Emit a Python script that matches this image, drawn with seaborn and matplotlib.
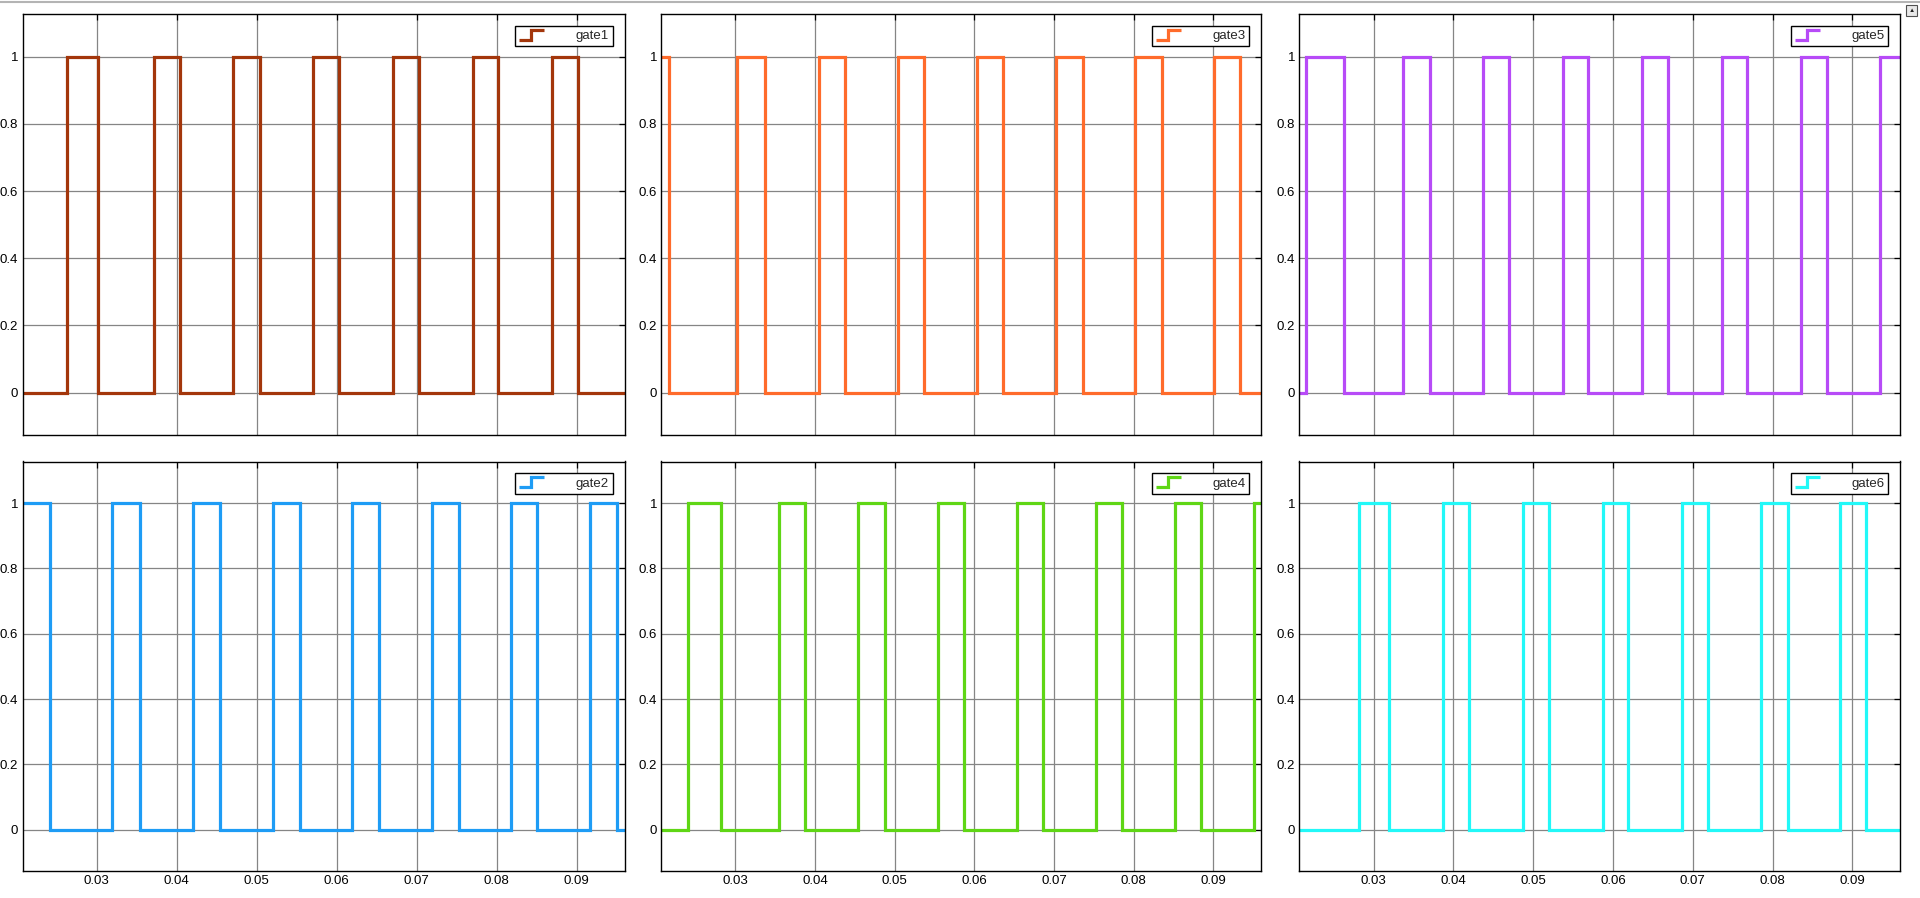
import numpy as np
import pandas as pd
import matplotlib
matplotlib.use('Agg')
import matplotlib.pyplot as plt
import seaborn as sns
from matplotlib.lines import Line2D
from matplotlib.legend_handler import HandlerBase
from matplotlib.patches import Rectangle

gate1_start = 0
gate1_edges = [0.02622, 0.03020, 0.03714, 0.04036, 0.04709, 0.05036, 0.05699, 0.06031,
               0.06699, 0.07026, 0.07699, 0.08020, 0.08689, 0.09020]
gate2_start = 1
gate2_edges = [0.02408, 0.03194, 0.03541, 0.04204, 0.04541, 0.05199, 0.05536, 0.06194,
               0.06531, 0.07189, 0.07526, 0.08184, 0.08510, 0.09173, 0.09500]
gate3_start = 1
gate3_edges = [0.02163, 0.03016, 0.03368, 0.04047, 0.04379, 0.05037, 0.05363, 0.06037,
               0.06363, 0.07026, 0.07358, 0.08021, 0.08353, 0.09011, 0.09337]
gate4_start = 0
gate4_edges = [0.02405, 0.02821, 0.03542, 0.03874, 0.04542, 0.04874, 0.05537, 0.05868,
               0.06532, 0.06858, 0.07526, 0.07853, 0.08516, 0.08842, 0.09511]
gate5_start = 0
gate5_edges = [0.02151, 0.02627, 0.03368, 0.03706, 0.04376, 0.04703, 0.05368, 0.05691,
               0.06366, 0.06688, 0.07363, 0.07685, 0.08355, 0.08683, 0.09348]
gate6_start = 0
gate6_edges = [0.02821, 0.03189, 0.03875, 0.04202, 0.04872, 0.05199, 0.05870, 0.06192,
               0.06867, 0.07189, 0.07859, 0.08187, 0.08847, 0.09174]

t_min, t_max = 0.0207, 0.0960
x_ticks = [0.03, 0.04, 0.05, 0.06, 0.07, 0.08, 0.09]
x_ticklabels = ['0.03', '0.04', '0.05', '0.06', '0.07', '0.08', '0.09']
y_ticks = [0, 0.2, 0.4, 0.6, 0.8, 1]
y_ticklabels = ['0', '0.2', '0.4', '0.6', '0.8', '1']

names = ['gate1', 'gate2', 'gate3', 'gate4', 'gate5', 'gate6']
starts = [gate1_start, gate2_start, gate3_start, gate4_start, gate5_start, gate6_start]
edges = [gate1_edges, gate2_edges, gate3_edges, gate4_edges, gate5_edges, gate6_edges]
colors = ['#A3360B', '#1E9CF5', '#FF6B2B', '#5FD615', '#B74BF7', '#22F8F8']


def step_frame(start, edge_list):
    t = [t_min] + list(edge_list) + [t_max]
    v = [(start + i) % 2 for i in range(len(edge_list) + 1)]
    v.append(v[-1])
    return pd.DataFrame({'t': t, 'v': v})


class StepHandler(HandlerBase):
    # legend icon drawn as a rising step, like the scope legend
    def create_artists(self, legend, orig_handle, xdescent, ydescent,
                       width, height, fontsize, trans):
        x0, y0 = -xdescent, -ydescent
        xs = [x0, x0 + width * 0.5, x0 + width * 0.5, x0 + width]
        ys = [y0 - 0.05 * height, y0 - 0.05 * height, y0 + 1.0 * height, y0 + 1.0 * height]
        ln = Line2D(xs, ys, color=orig_handle.get_color(), lw=orig_handle.get_linewidth(),
                    solid_joinstyle='miter', solid_capstyle='butt')
        ln.set_transform(trans)
        return [ln]


sns.set_theme(style='white')
plt.rcParams['font.family'] = ['Liberation Sans', 'DejaVu Sans']

fig = plt.figure(figsize=(19.2, 8.98), dpi=100)
W, H = 1920.0, 898.0
col_px = [(22.5, 624.5), (661.3, 1261.3), (1299.3, 1900.3)]
row_px = [(14.0, 435.0), (461.5, 871.0)]

# panel order: gate1,3,5 on top, gate2,4,6 below
layout = {0: (0, 0), 1: (1, 0), 2: (0, 1), 3: (1, 1), 4: (0, 2), 5: (1, 2)}

for k in range(6):
    r, c = layout[k]
    l, rr = col_px[c]
    top, bot = row_px[r]
    ax = fig.add_axes([l / W, 1 - bot / H, (rr - l) / W, (bot - top) / H])
    df = step_frame(starts[k], edges[k])
    sns.lineplot(data=df, x='t', y='v', ax=ax, color=colors[k], linewidth=2.3,
                 drawstyle='steps-post', solid_joinstyle='miter', estimator=None)
    ax.set_xlim(t_min, t_max)
    ax.set_ylim(-0.126, 1.127)
    ax.set_xticks(x_ticks)
    ax.set_yticks(y_ticks)
    ax.set_yticklabels(y_ticklabels)
    if r == 1:
        ax.set_xticklabels(x_ticklabels)
    else:
        ax.set_xticklabels([])
    ax.set_xlabel('')
    ax.set_ylabel('')
    ax.grid(True, color='#858585', linewidth=0.9)
    ax.set_axisbelow(True)
    ax.tick_params(direction='in', length=4, width=0.9, colors='black', labelsize=9.5,
                   top=True, right=True, pad=3)
    for sp in ax.spines.values():
        sp.set_color('black')
        sp.set_linewidth(1.0)
        sp.set_visible(True)
    leg = ax.legend(handles=[ax.lines[0]], labels=[names[k]],
                    handler_map={Line2D: StepHandler()}, loc='upper right',
                    fontsize=9.5, frameon=True, fancybox=False, framealpha=1,
                    edgecolor='black', handlelength=1.9, handletextpad=2.4,
                    borderpad=0.3, borderaxespad=0.9)
    leg.get_frame().set_linewidth(1.0)

# thin grey border at the top and the small undock button
fig.add_artist(Line2D([0, 1], [1 - 1.5 / H, 1 - 1.5 / H], color='#b4b4b4', lw=1.5))
fig.add_artist(Rectangle((1906 / W, 1 - 16 / H), 11 / W, 11 / H, facecolor='#e8e8e8',
                         edgecolor='#505050', lw=0.8))
fig.text(1911.5 / W, 1 - 10.5 / H, '\u25b2', fontsize=4.5, ha='center', va='center',
         color='#202020')

fig.savefig('out.png', dpi=100, facecolor='white')
